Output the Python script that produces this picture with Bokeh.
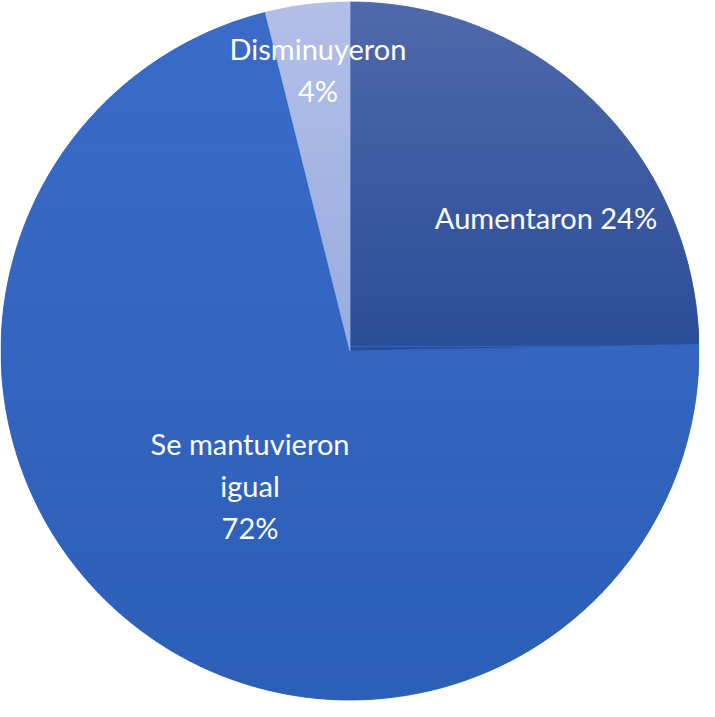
import math
from bokeh.plotting import figure
from bokeh.models import Range1d, ColumnDataSource
from bokeh.core.properties import value
from bokeh.embed import file_html
from bokeh.resources import INLINE

# ---- data ----
categories = ["Aumentaron", "Se mantuvieron\nigual", "Disminuyeron"]
shares = [24.7, 71.4, 3.9]
pct_labels = ["24%", "72%", "4%"]
top_colors = ["#5069ab", "#3b6bc9", "#b3bfe7"]
bottom_colors = ["#2a4d9a", "#2c5fb7", "#98ace0"]

# ---- layout ----
W, H = 699, 701
R = 349.0
p = figure(width=W, height=H, output_backend="svg", toolbar_location=None,
           x_range=Range1d(-W / 2, W / 2), y_range=Range1d(-H / 2, H / 2),
           min_border=0, outline_line_color=None, background_fill_color="white",
           border_fill_color="white")
p.axis.visible = False
p.grid.visible = False


def hex2rgb(h):
    h = h.lstrip("#")
    return tuple(int(h[i:i + 2], 16) for i in (0, 2, 4))


def mix(c1, c2, t):
    a, b = hex2rgb(c1), hex2rgb(c2)
    return "#%02x%02x%02x" % tuple(int(round(a[i] + (b[i] - a[i]) * t)) for i in range(3))


def clip_y(poly, y0, keep_above):
    out = []
    n = len(poly)
    for i in range(n):
        cx, cy = poly[i]
        px, py = poly[i - 1]
        cin = cy >= y0 if keep_above else cy <= y0
        pin = py >= y0 if keep_above else py <= y0
        if cin:
            if not pin:
                t = (y0 - py) / (cy - py)
                out.append((px + t * (cx - px), y0))
            out.append((cx, cy))
        elif pin:
            t = (y0 - py) / (cy - py)
            out.append((px + t * (cx - px), y0))
    return out


total = sum(shares)
start = math.pi / 2
starts, ends = [], []
for s in shares:
    end = start - s / total * 2 * math.pi
    starts.append(start)
    ends.append(end)
    start = end

# base wedges
src = ColumnDataSource(dict(start=ends, end=starts,
                            color=[mix(t, b, 0.5) for t, b in zip(top_colors, bottom_colors)]))
p.wedge(x=0, y=0, radius=R, start_angle="start", end_angle="end", direction="anticlock",
        fill_color="color", line_color=None, source=src)

# gradient overlay (vertical gradient per slice)
xs, ys, cols = [], [], []
NSTRIP = 70
for i in range(len(shares)):
    a0, a1 = starts[i], ends[i]
    npts = max(8, int(abs(a0 - a1) * 120))
    poly = [(0.0, 0.0)] + [(R * math.cos(a0 + (a1 - a0) * k / npts),
                            R * math.sin(a0 + (a1 - a0) * k / npts)) for k in range(npts + 1)]
    ytop = max(pt[1] for pt in poly)
    ybot = min(pt[1] for pt in poly)
    for k in range(NSTRIP):
        yh = ytop - (ytop - ybot) * k / NSTRIP
        yl = ytop - (ytop - ybot) * (k + 1) / NSTRIP
        piece = clip_y(clip_y(poly, yl, True), yh, False)
        if len(piece) < 3:
            continue
        xs.append([pt[0] for pt in piece])
        ys.append([pt[1] for pt in piece])
        cols.append(mix(top_colors[i], bottom_colors[i], (k + 0.5) / NSTRIP))
p.patches(xs=xs, ys=ys, fill_color=cols, line_color=cols, line_width=0.8)

# labels
label_x = [196, -100, -32]
label_y = [134, -134, 282]
texts = [
    categories[0] + " " + pct_labels[0],
    categories[1] + "\n" + pct_labels[1],
    categories[2] + "\n" + pct_labels[2],
]
p.text(x=label_x, y=label_y, text=texts, text_color="white",
       text_font=value("Lato"), text_font_size="29px", text_align="center",
       text_baseline="middle", text_line_height=1.2)

open("out.html", "w").write(file_html(p, INLINE))
